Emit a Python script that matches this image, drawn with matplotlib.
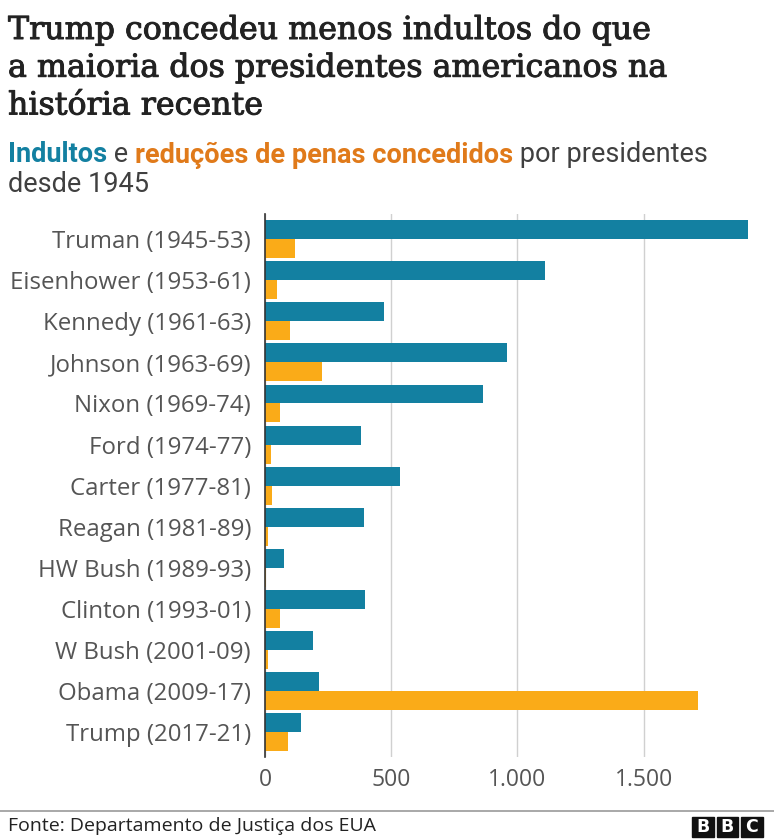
import numpy as np
import matplotlib.pyplot as plt
import matplotlib.patheffects as pe
from matplotlib.patches import Rectangle

presidents = ["Truman (1945-53)", "Eisenhower (1953-61)", "Kennedy (1961-63)",
              "Johnson (1963-69)", "Nixon (1969-74)", "Ford (1974-77)",
              "Carter (1977-81)", "Reagan (1981-89)", "HW Bush (1989-93)",
              "Clinton (1993-01)", "W Bush (2001-09)", "Obama (2009-17)",
              "Trump (2017-21)"]
pardons = [1913, 1110, 472, 960, 863, 382, 534, 393, 74, 396, 189, 212, 143]
commutations = [118, 47, 100, 226, 60, 22, 29, 13, 3, 61, 11, 1715, 90]
xticks = [0, 500, 1000, 1500]
xtick_labels = ["0", "500", "1.000", "1.500"]

BLUE = "#1380A1"
ORANGE = "#FAAB18"
ORANGE_TXT = "#E07A1A"

plt.rcParams['font.family'] = ['Open Sans', 'DejaVu Sans']

fig = plt.figure(figsize=(7.74, 8.4), dpi=100)
ax = fig.add_axes([265 / 774, 1 - 757 / 840, (1920 * 0.2524) / 774, (757 - 214) / 840])

y = np.arange(len(presidents))
h = 0.46
ax.barh(y - h / 2, pardons, height=h, color=BLUE, zorder=3)
ax.barh(y + h / 2, commutations, height=h, color=ORANGE, zorder=3)

ax.set_xlim(0, 1920)
ax.set_ylim(12.6, -0.61)
ax.set_xticks(xticks)
ax.set_xticklabels(xtick_labels)
ax.set_yticks(y)
ax.set_yticklabels(presidents)
ax.tick_params(axis='both', length=0, labelsize=16.5, labelcolor="#555555")
ax.tick_params(axis='y', pad=10, labelsize=17.3)
ax.tick_params(axis='x', pad=8)
ax.grid(axis='x', color="#d0d0d0", linewidth=1, zorder=0)
for s in ["top", "right", "bottom"]:
    ax.spines[s].set_visible(False)
ax.spines["left"].set_color("#333333")
ax.spines["left"].set_linewidth(1.2)
ax.spines["left"].set_zorder(4)

# title (slight stroke to get closer to the heavier BBC serif)
fig.text(8 / 774, 1 - 15 / 840,
         "Trump concedeu menos indultos do que\na maioria dos presidentes americanos na\nhistória recente",
         family=['DejaVu Serif'], fontsize=22.8, color="#222222", va='top', ha='left',
         linespacing=1.28,
         path_effects=[pe.withStroke(linewidth=0.7, foreground="#222222")])

# subtitle with coloured words
fig.canvas.draw()
renderer = fig.canvas.get_renderer()
x0 = 8
ypix = 840 - 155
parts = [("Indultos", BLUE, 'bold'), (" e ", "#404040", 'normal'),
         ("reduções de penas concedidos", ORANGE_TXT, 'bold'),
         (" por presidentes", "#404040", 'normal')]
xc = x0
for txt, col, wt in parts:
    t = fig.text(xc / 774, ypix / 840, txt, fontsize=19.5, color=col, weight=wt,
                 va='center', ha='left', family=['Roboto', 'DejaVu Sans'])
    bb = t.get_window_extent(renderer)
    xc += bb.width
fig.text(x0 / 774, (840 - 185) / 840, "desde 1945", fontsize=19.5, color="#404040",
         va='center', ha='left', family=['Roboto', 'DejaVu Sans'])

# footer
fig.add_artist(plt.Line2D([0, 1], [1 - 811 / 840, 1 - 811 / 840], color="#999999", linewidth=1.2))
fig.text(8 / 774, 1 - 826 / 840, "Fonte: Departamento de Justiça dos EUA", fontsize=14,
         color="#222222", va='center', ha='left')
for i, letter in enumerate("BBC"):
    bx = 692 + i * 24.5
    fig.add_artist(Rectangle((bx / 774, 1 - 837 / 840), 21.5 / 774, 20 / 840,
                             transform=fig.transFigure, color="#111111"))
    fig.text((bx + 10.75) / 774, 1 - 827 / 840, letter, fontsize=12.5, weight='bold',
             color="white", ha='center', va='center', family=['DejaVu Sans'])

fig.savefig("out.png", dpi=100)
